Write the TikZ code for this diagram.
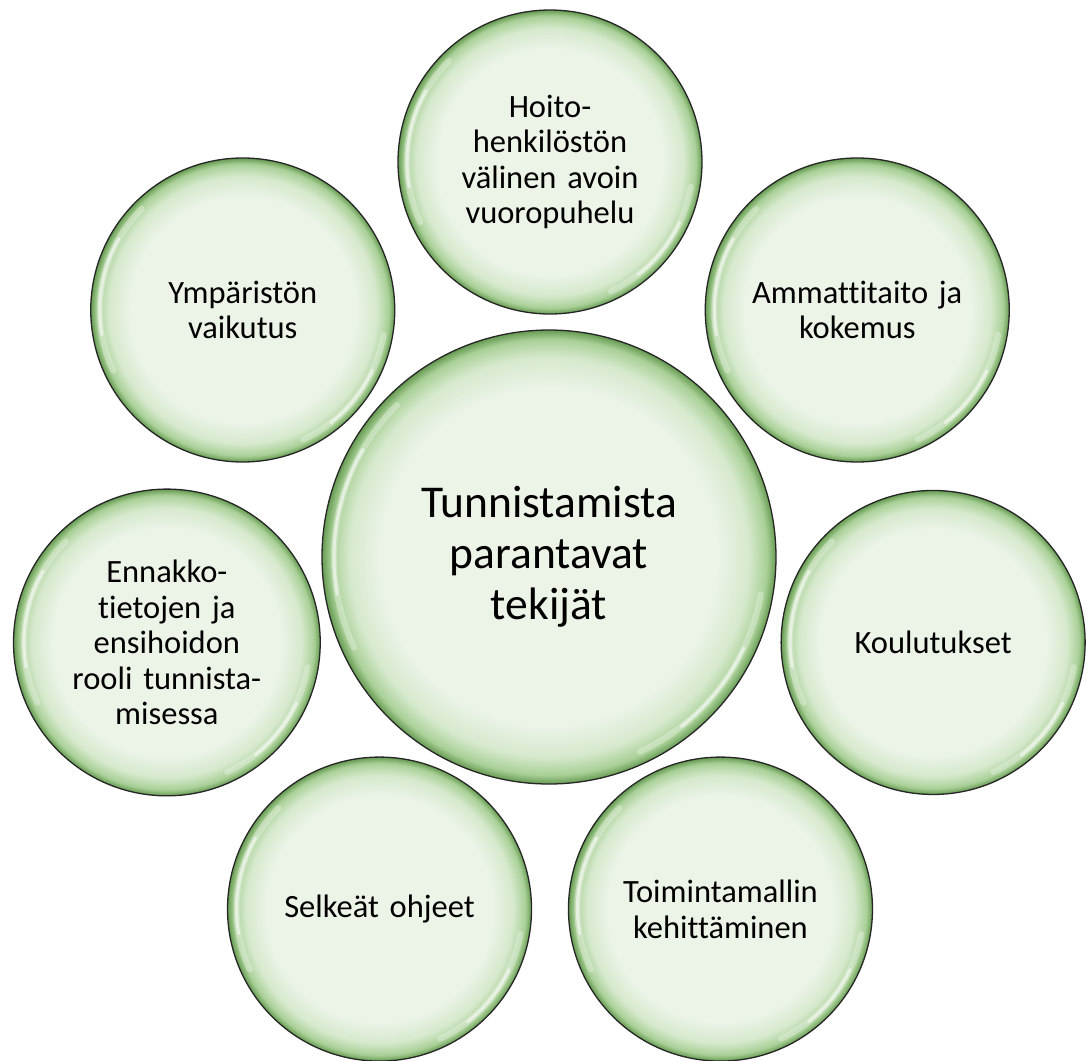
\documentclass[tikz,border=0pt]{standalone}
\usepackage{fontspec}
\setmainfont{Carlito}[Ligatures={NoCommon}]
\usetikzlibrary{calc}
\definecolor{bubin}{HTML}{ECF4E8}
\definecolor{bubl}{HTML}{D6E9CD}
\definecolor{bubm}{HTML}{A9D097}
\definecolor{bubd}{HTML}{659A51}
\pgfdeclareradialshading{bubble}{\pgfpoint{0bp}{0bp}}{color(0bp)=(bubin); color(18.5bp)=(bubin); color(22bp)=(bubl); color(24bp)=(bubm); color(25bp)=(bubd); color(50bp)=(bubd)}
\tikzset{
  bub/.style={circle, shading=bubble, draw=black!85, line width=1.3pt,
    minimum size=304pt, inner sep=0pt, align=center,
    font=\fontsize{32.5}{35.5}\selectfont, text width=260pt},
  hub/.style={bub, minimum size=454pt, font=\fontsize{45.5}{51}\selectfont, text width=380pt},
  glossa/.style={white, line width=6pt, line cap=round, opacity=0.3},
  glossb/.style={white, line width=3pt, line cap=round, opacity=0.55}
}
\begin{document}
\begin{tikzpicture}[x=1pt,y=1pt]
\useasboundingbox (0,0) rectangle (1088,-1061);
\coordinate (C) at (550,-555);
\node[hub] (hub) at (549,-557) {Tunnistamista\\parantavat\\tekijät};
\node[bub] (s1) at ($(C)+(90:393)$) {Hoito-\\henkilöstön\\välinen avoin\\vuoropuhelu};
\node[bub] (s2) at ($(C)+(38.57:393)$) {Ammattitaito ja\\kokemus};
\node[bub] (s3) at ($(C)+(-12.86:393)$) {Koulutukset};
\node[bub] (s4) at ($(C)+(-64.29:393)$) {Toimintamallin\\kehittäminen};
\node[bub] (s5) at ($(C)+(-115.71:393)$) {Selkeät ohjeet};
\node[bub] (s6) at ($(C)+(-167.14:393)$) {Ennakko-\\tietojen ja\\ensihoidon\\rooli tunnista-\\misessa};
\node[bub] (s7) at ($(C)+(141.43:393)$) {Ympäristön\\vaikutus};
\foreach \n/\rr in {hub/215, s1/143, s2/143, s3/143, s4/143, s5/143, s6/143, s7/143}{
  \draw[glossa] ($(\n.center)+(135:\rr)$) arc[start angle=135, end angle=205, radius=\rr];
  \draw[glossb] ($(\n.center)+(150:\rr)$) arc[start angle=150, end angle=190, radius=\rr];
  \draw[glossa] ($(\n.center)+(-65:\rr)$) arc[start angle=-65, end angle=-10, radius=\rr];
  \draw[glossb] ($(\n.center)+(-52:\rr)$) arc[start angle=-52, end angle=-25, radius=\rr];
}
\end{tikzpicture}
\end{document}
